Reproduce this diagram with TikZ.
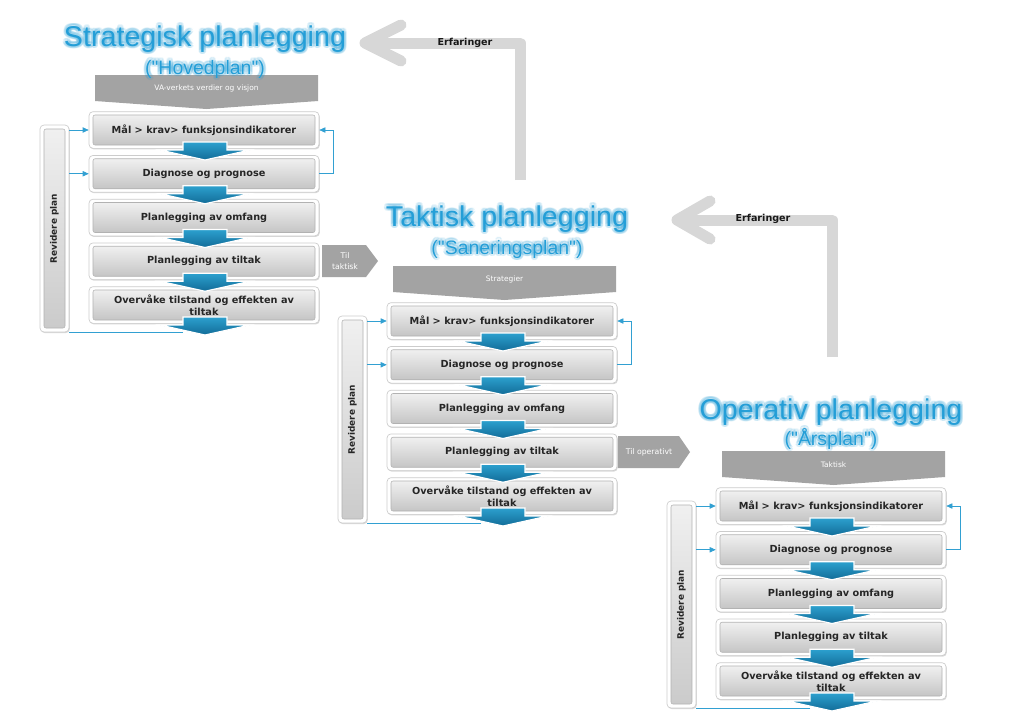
\documentclass[tikz,border=0pt]{standalone}
\usepackage{fontspec}
\setmainfont{DejaVu Sans}
\newfontfamily\ttlfont{Liberation Sans}
\usetikzlibrary{arrows.meta,shadows,calc}
\definecolor{ttlblue}{RGB}{36,158,215}
\definecolor{bannergray}{RGB}{163,163,163}
\definecolor{lineblue}{RGB}{50,160,210}
\definecolor{arrdark}{RGB}{18,108,152}
\definecolor{arrlight}{RGB}{44,160,206}
\definecolor{erfgray}{RGB}{215,215,215}
\definecolor{boxtop}{RGB}{240,240,240}
\definecolor{boxbot}{RGB}{197,197,197}
\tikzset{
  boxframe/.style={draw=gray!40, fill=white, rounded corners=3pt, line width=0.5pt,
    minimum width=172.5pt, minimum height=27.5pt, inner sep=0pt,
    drop shadow={shadow xshift=0.6pt, shadow yshift=-0.8pt, opacity=0.3}},
  stepbox/.style={draw=gray!60, line width=0.4pt, rounded corners=1.5pt,
    top color=boxtop, bottom color=boxbot, minimum width=166.5pt, minimum height=22.5pt,
    inner sep=1pt, font=\bfseries\fontsize{7.3}{9.2}\selectfont, text=black!85, align=center},
  barframe/.style={draw=gray!40, fill=white, rounded corners=3pt, line width=0.5pt,
    minimum width=21.75pt, minimum height=155.25pt, inner sep=0pt,
    drop shadow={shadow xshift=0.6pt, shadow yshift=-0.8pt, opacity=0.3}},
  barinner/.style={draw=gray!60, line width=0.4pt, rounded corners=1.5pt, rotate=90,
    top color=boxtop, bottom color=boxbot!90, minimum width=149.25pt, minimum height=15.75pt,
    inner sep=0pt, font=\bfseries\fontsize{6.7}{8}\selectfont, text=black!85},
  bannertext/.style={text=white, font=\fontsize{5.6}{6.5}\selectfont, inner sep=0pt},
  tiltext/.style={text=white, font=\fontsize{5.8}{8.5}\selectfont, align=center, inner sep=0pt},
  blockarrow/.style={draw=white, line width=0.9pt, line join=miter, top color=arrlight, bottom color=arrdark},
  conn/.style={draw=lineblue, line width=0.5pt, -{Triangle[length=4.5pt,width=4pt]}},
  plainconn/.style={draw=lineblue, line width=0.5pt},
  erf/.style={draw=erfgray, line width=8.25pt, line join=round},
  erflbl/.style={font=\bfseries\fontsize{7.2}{8}\selectfont, text=black!90, inner sep=0pt},
  ttl/.style={font=\ttlfont\fontsize{21.5}{24}\selectfont, text=ttlblue, inner sep=0pt, anchor=base},
  subttl/.style={font=\ttlfont\fontsize{14.6}{16}\selectfont, text=ttlblue, inner sep=0pt, anchor=base},
}
\newcommand\bluearr[2]{%
  \draw[blockarrow, shift={(#1,#2)}] (-22,-3) -- (22,-3) -- (22,5) -- (45,5) -- (0,15) -- (-45,5) -- (-22,5) -- cycle;}
\newcommand\planblock[2]{%
  \fill[bannergray] (95,75) -- (318,75) -- (318,101) -- (206.5,109) -- (95,101) -- cycle;
  \node[bannertext] (#1ban) at (206.5,88.5) {#2};
  \node[barframe] (#1barO) at (54.5,228.5) {};
  \node[barinner] (#1bar) at (54.5,228.5) {Revidere plan};
  \node[boxframe] (#1o0) at (204,130) {};
  \node[stepbox] (#1b0) at (204,130) {Mål > krav> funksjonsindikatorer};
  \node[boxframe] (#1o1) at (204,173.75) {};
  \node[stepbox] (#1b1) at (204,173.75) {Diagnose og prognose};
  \node[boxframe] (#1o2) at (204,217.5) {};
  \node[stepbox] (#1b2) at (204,217.5) {Planlegging av omfang};
  \node[boxframe] (#1o3) at (204,261.25) {};
  \node[stepbox] (#1b3) at (204,261.25) {Planlegging av tiltak};
  \node[boxframe] (#1o4) at (204,305) {};
  \node[stepbox] (#1b4) at (204,305) {Overvåke tilstand og effekten av\\tiltak};
  \bluearr{205}{145}
  \bluearr{205}{188.75}
  \bluearr{205}{232.5}
  \bluearr{205}{276.25}
  \bluearr{205}{320}
  \coordinate (#1end) at (183,332);
  \draw[plainconn] (#1end) -- (#1end -| #1barO.east);
  \draw[conn] (#1barO.east |- #1o0.west) -- (#1o0.west);
  \draw[conn] (#1barO.east |- #1o1.west) -- (#1o1.west);
  \draw[conn] (#1o1.east) -- ++(14,0) |- (#1o0.east);
}
\newcommand\glowttl[5]{% name, x, y, style, text
  \foreach \a in {0,30,...,330}{
    \node[#4, text=ttlblue, text opacity=0.12] (#1h\a) at ($(#2,#3)+(\a:2.6)$) {#5};
  }
  \node[#4] (#1) at (#2,#3) {#5};
}
\begin{document}
\begin{tikzpicture}[x=0.75pt,y=-0.75pt]
\useasboundingbox (0,0) rectangle (1024,726);
\fill[white] (0,0) rectangle (1024,726);

% Erfaringer arrows
\coordinate (e1s) at (520,180);
\coordinate (e1t) at (365,43);
\draw[erf] (e1s) |- (e1t);
\draw[erf, line cap=round] (401,25) -- (e1t) -- (401,61);
\node[erflbl] (e1l) at (465,43) {Erfaringer};

\coordinate (e2s) at (832,357);
\coordinate (e2t) at (677,220);
\draw[erf] (e2s) |- (e2t);
\draw[erf, line cap=round] (710,201) -- (e2t) -- (710,239);
\node[erflbl] (e2l) at (763,219) {Erfaringer};

% Block 1
\begin{scope}
  \planblock{s}{VA-verkets verdier og visjon}
\end{scope}
\glowttl{sT}{205}{46}{ttl}{Strategisk planlegging}
\glowttl{sS}{205}{74}{subttl}{("Hovedplan")}

% Til taktisk
\fill[bannergray] (322,245) -- (366,245) -- (378,261) -- (366,277) -- (322,277) -- cycle;
\node[tiltext] (tt) at (345,261) {Til\\taktisk};

% Block 2
\begin{scope}[shift={(298,191)}]
  \planblock{t}{Strategier}
\end{scope}
\glowttl{tT}{507}{226}{ttl}{Taktisk planlegging}
\glowttl{tS}{507}{254}{subttl}{("Saneringsplan")}

% Til operativt
\fill[bannergray] (618,436) -- (679,436) -- (690,452) -- (679,468) -- (618,468) -- cycle;
\node[tiltext] (to) at (649,452) {Til operativt};

% Block 3
\begin{scope}[shift={(627,376)}]
  \planblock{o}{Taktisk}
\end{scope}
\glowttl{oT}{831}{419}{ttl}{Operativ planlegging}
\glowttl{oS}{831}{445}{subttl}{("Årsplan")}
\end{tikzpicture}
\end{document}
